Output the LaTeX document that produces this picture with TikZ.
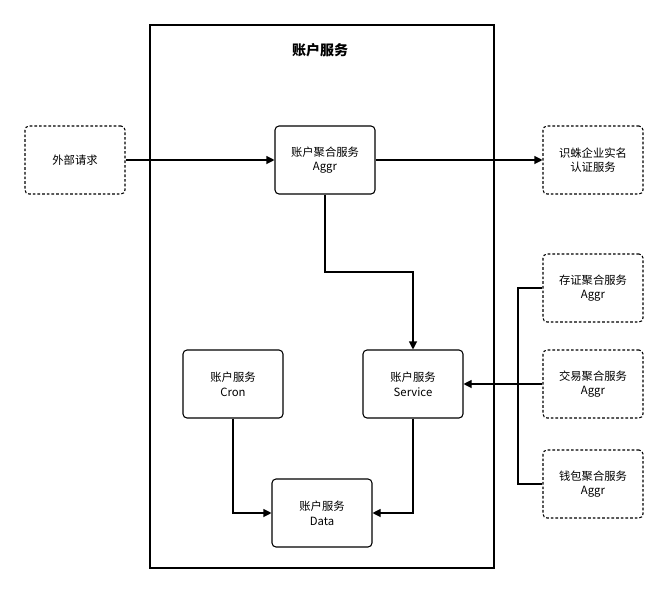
\documentclass[tikz,border=0pt]{standalone}
\usepackage{fontspec}
\setmainfont{Noto Sans CJK SC}
\usetikzlibrary{arrows.meta,positioning}

\begin{document}
\begin{tikzpicture}[x=0.75pt,y=-0.75pt,font=\fontsize{8.5}{11}\selectfont,
	box/.style={draw,thick,rounded corners=3pt,minimum width=75pt,minimum height=51pt,align=center},
	ext/.style={box,dash pattern=on 2pt off 1.5pt},
	arr/.style={-{Triangle[length=6pt,width=6pt]},thick}]

\useasboundingbox (0,0) rectangle (669,593);
\draw[thick] (150,25) rectangle (494,568);
\node[font=\fontsize{10.5}{12}\selectfont\bfseries] (title) at (320,50) {账户服务};

% outside
\node[ext] (req) at (75,160) {外部请求};
\node[ext] (auth) at (593,160) {识蛛企业实名\\认证服务};
\node[ext] (cert) at (593,288) {存证聚合服务\\Aggr};
\node[ext] (trade) at (593,384) {交易聚合服务\\Aggr};
\node[ext] (wallet) at (593,484) {钱包聚合服务\\Aggr};

% inside
\node[box] (aggr) at (325,160) {账户聚合服务\\Aggr};
\node[box] (cron) at (233,384) {账户服务\\Cron};
\node[box] (svc) at (413,384) {账户服务\\Service};
\node[box] (data) at (322,513) {账户服务\\Data};

\coordinate (bus) at (518,384);

\draw[arr] (req) -- (aggr);
\draw[arr] (aggr) -- (auth);
\draw[arr] (aggr.south) |- (413,272) -- (svc.north);
\draw[thick] (cert.west) -| (bus) |- (wallet.west);
\draw[thick] (trade.west) -- (bus);
\draw[arr] (bus) -- (svc.east);
\draw[arr] (cron.south) |- (data.west);
\draw[arr] (svc.south) |- (data.east);
\end{tikzpicture}
\end{document}
